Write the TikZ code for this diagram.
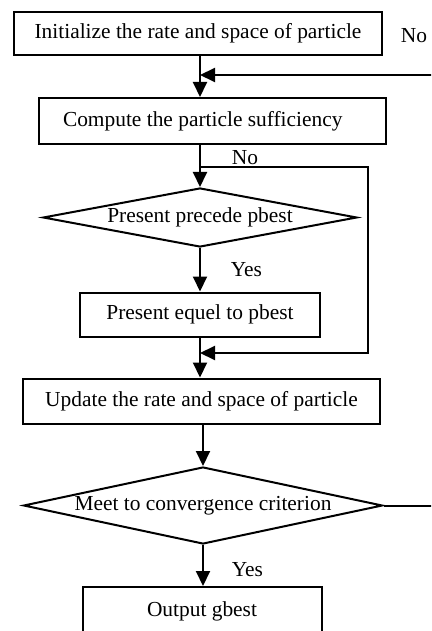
\documentclass[tikz,border=0pt]{standalone}
\usepackage{fontspec}
\setmainfont{Liberation Serif}
\usetikzlibrary{arrows.meta,shapes.geometric}

\begin{document}
\begin{tikzpicture}[x=1pt, y=-1pt, every node/.style={font=\fontsize{21.4}{24}\selectfont},
	box/.style={draw, line width=2pt, inner sep=0pt},
	decision/.style={draw, diamond, line width=2pt, inner sep=0pt},
	arr/.style={line width=2pt, -{Triangle[length=15pt, width=14pt]}}]
	\useasboundingbox (0,0) rectangle (431,631);
	\clip (0,0) rectangle (431,631);
	% boxes and decisions
	\node[box, minimum width=368pt, minimum height=43pt] (init) at (198,33.5) {Initialize the rate and space of particle};
	\node[box, minimum height=46pt, text width=299pt, inner xsep=24pt, align=flush left] (comp) at (212.5,121) {Compute the particle sufficiency};
	\node[decision, aspect=5.3, minimum width=314pt, minimum height=59pt] (prec) at (200,217.5) {Present precede pbest};
	\node[box, minimum width=240pt, minimum height=44pt] (equ) at (200,314.5) {Present equel to pbest};
	\node[box, minimum width=357pt, minimum height=45pt] (upd) at (201.5,401) {Update the rate and space of particle};
	\node[decision, aspect=4.66, minimum width=359pt, minimum height=77pt] (conv) at (203,505.5) {\raisebox{-3pt}{Meet to convergence criterion}};
	\node[box, minimum width=239pt, minimum height=48pt] (out) at (202,611) {Output gbest};
	% labels
	\node (lno1) at (414,36) {No};
	\node (lno2) at (245,158) {No};
	\node (lyes1) at (246.5,270) {Yes};
	\node (lyes2) at (247.5,570) {Yes};
	% spine points
	\coordinate (sp) at (200,0);
	\coordinate (sq) at (203,0);
	\coordinate (m1) at (200,75);
	\coordinate (b1) at (200,167);
	\coordinate (m2) at (200,353);
	% connectors
	\draw[arr] (init.south -| sp) -- (comp.north -| sp);
	\draw[arr] (comp.south -| sp) -- (prec.north);
	\draw[arr] (prec.south) -- (equ.north);
	\draw[arr] (equ.south) -- (upd.north -| sp);
	\draw[arr] (upd.south -| sq) -- (conv.north);
	\draw[arr] (conv.south) -- (out.north -| sq);
	\draw[arr] (b1) -- ++(168,0) |- (m2);
	\draw[arr] (conv.east) -- ++(60,0) |- (m1);
\end{tikzpicture}
\end{document}
